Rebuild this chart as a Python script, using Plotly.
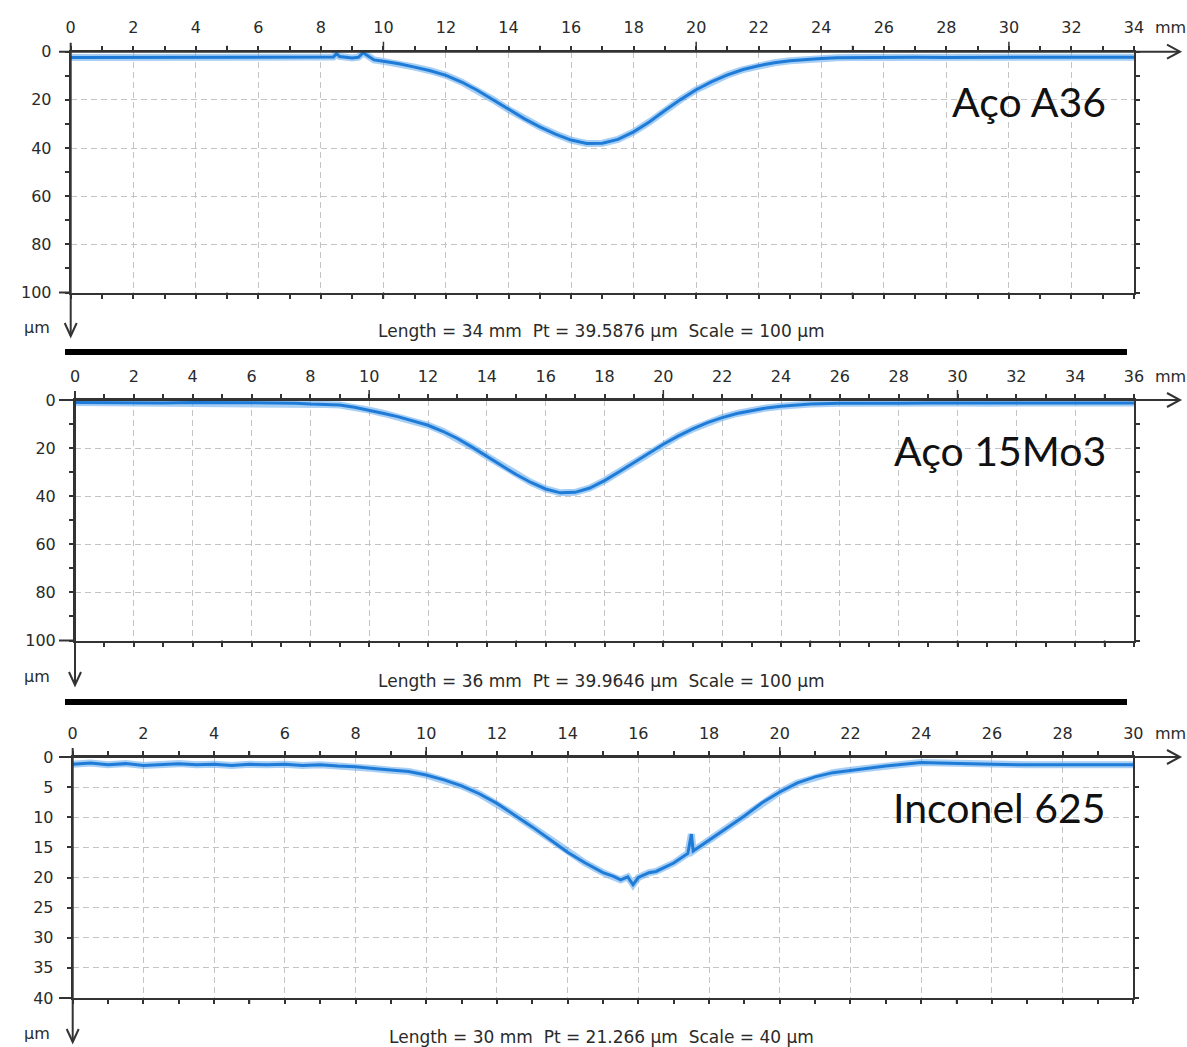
import plotly.graph_objects as go

W, H = 1187, 1047

# ---------------- data (depth in µm, positive downward) ----------------
a36_x = [0, 1, 2, 3, 4, 5, 6, 7, 8, 8.4, 8.5, 8.6, 9.0, 9.2, 9.35, 9.5, 9.7, 10, 10.5, 11, 11.5,
         12, 12.5, 13, 13.5, 14, 14.5, 15, 15.5, 16, 16.5, 17, 17.5, 18, 18.5, 19, 19.5, 20,
         20.5, 21, 21.5, 22, 22.5, 23, 23.5, 24, 24.5, 25, 26, 27, 28, 29, 30, 31, 32, 33, 34]
a36_y = [2.4, 2.4, 2.5, 2.3, 2.4, 2.4, 2.5, 2.3, 2.2, 2.2, 0.8, 2.0, 2.6, 2.3, 0.4, 1.8, 3.4, 4.0, 5.0,
         6.4, 7.9, 9.8, 12.6, 16.0, 19.9, 24.0, 27.8, 31.2, 34.2, 36.7, 38.1, 38.0, 36.4, 33.3,
         29.2, 24.4, 19.9, 15.8, 12.4, 9.6, 7.4, 5.8, 4.6, 3.8, 3.2, 2.8, 2.5, 2.4, 2.3, 2.3,
         2.4, 2.3, 2.3, 2.4, 2.3, 2.3, 2.3]

mo3_x = [0, 1, 2, 3, 4, 5, 6, 7, 7.5, 8, 8.5, 9, 9.5, 10, 10.5, 11, 11.5, 12, 12.5, 13, 13.5,
         14, 14.5, 15, 15.5, 16, 16.5, 17, 17.5, 18, 18.5, 19, 19.5, 20, 20.5, 21, 21.5, 22,
         22.5, 23, 23.5, 24, 24.5, 25, 26, 27, 28, 29, 30, 31, 32, 33, 34, 35, 36]
mo3_y = [1.0, 1.1, 1.0, 1.2, 1.0, 1.1, 1.0, 1.2, 1.3, 1.7, 1.9, 2.1, 3.0, 4.2, 5.6, 7.0, 8.6,
         10.5, 13.0, 16.0, 19.6, 23.4, 27.3, 31.0, 34.3, 37.0, 38.6, 38.4, 36.6, 33.5, 29.8,
         25.9, 22.0, 18.4, 15.0, 12.0, 9.4, 7.3, 5.6, 4.3, 3.3, 2.6, 2.0, 1.7, 1.4, 1.2, 1.3,
         1.2, 1.2, 1.3, 1.2, 1.4, 1.2, 1.3, 1.2]

inc_x = [0, 0.5, 1, 1.5, 2, 2.5, 3, 3.5, 4, 4.5, 5, 5.5, 6, 6.5, 7, 7.5, 8, 8.5, 9, 9.5, 10,
         10.5, 11, 11.5, 12, 12.5, 13, 13.5, 14, 14.5, 15, 15.3, 15.5, 15.7, 15.85, 16, 16.3,
         16.5, 17, 17.4, 17.5, 17.55, 18, 18.5, 19, 19.5, 20, 20.5, 21, 21.5, 22, 22.5, 23,
         23.5, 24, 24.5, 25, 26, 27, 28, 29, 30]
inc_y = [1.2, 1.0, 1.3, 1.1, 1.4, 1.2, 1.1, 1.3, 1.2, 1.4, 1.2, 1.3, 1.2, 1.4, 1.3, 1.5, 1.6,
         1.9, 2.2, 2.4, 3.0, 3.8, 4.8, 6.1, 7.7, 9.6, 11.6, 13.7, 15.8, 17.6, 19.2, 19.8, 20.4,
         19.9, 21.2, 20.0, 19.2, 19.0, 17.6, 16.0, 12.8, 15.6, 13.8, 11.8, 9.8, 7.6, 5.8, 4.3,
         3.3, 2.6, 2.2, 1.8, 1.5, 1.2, 0.9, 1.0, 1.1, 1.2, 1.3, 1.3, 1.2, 1.3]

labels = ["Aço A36", "Aço 15Mo3", "Inconel 625"]
footers = ["Length = 34 mm  Pt = 39.5876 µm  Scale = 100 µm",
           "Length = 36 mm  Pt = 39.9646 µm  Scale = 100 µm",
           "Length = 30 mm  Pt = 21.266 µm  Scale = 40 µm"]
x_max = [34, 36, 30]
y_max = [100, 100, 40]
y_step = [20, 20, 5]

# ---------------- layout geometry (pixels) ----------------
geo = [
    dict(px0=70.7, px1=1134, py0=51.7, py1=292.5, foot_y=331, um_y=327, bar_y=352),
    dict(px0=75.0, px1=1134, py0=400.0, py1=640.5, foot_y=681, um_y=676, bar_y=702),
    dict(px0=72.7, px1=1133.3, py0=757.0, py1=998.0, foot_y=1037, um_y=1033, bar_y=None),
]

def fx(p):
    return p / W

def fy(p):
    return 1 - p / H

TXT = "#2a2a2a"
AX = "#333333"
FONT = "DejaVu Sans"
BLUE_U = "rgba(95,165,235,0.55)"
BLUE = "#1e7cd8"

fig = go.Figure()
series = [(a36_x, a36_y), (mo3_x, mo3_y), (inc_x, inc_y)]
shapes = []
annotations = []

for i, (xs, ys) in enumerate(series):
    g = geo[i]
    sfx = "" if i == 0 else str(i + 1)
    xa, ya = "x" + sfx, "y" + sfx
    fig.add_trace(go.Scatter(x=xs, y=ys, mode="lines", xaxis=xa, yaxis=ya,
                             line=dict(color=BLUE_U, width=7), hoverinfo="skip", showlegend=False))
    fig.add_trace(go.Scatter(x=xs, y=ys, mode="lines", xaxis=xa, yaxis=ya,
                             line=dict(color=BLUE, width=3), showlegend=False))

    xm, ym = x_max[i], y_max[i]
    xt = list(range(0, xm + 1, 2))
    xtt = [str(v) for v in xt]
    yt = list(range(0, ym + 1, y_step[i]))
    fig.layout["xaxis" + sfx] = dict(
        domain=[fx(g["px0"]), fx(g["px1"])], anchor=ya, side="top", range=[0, xm],
        automargin=False,
        tickvals=xt, ticktext=xtt, ticks="outside", ticklen=4, tickwidth=1.5, tickcolor=AX,
        minor=dict(dtick=1, ticks="outside", ticklen=4, tickwidth=1.5, tickcolor=AX, showgrid=False),
        showline=True, linecolor=AX, linewidth=2, mirror="ticks",
        showgrid=True, gridcolor="#c4c4c4", gridwidth=1, griddash="6px,4px",
        zeroline=False, tickfont=dict(family=FONT, size=16, color=TXT), ticklabelstandoff=6,
        fixedrange=True)
    yminor = dict(dtick=10, ticks="outside", ticklen=4, tickwidth=1.5, tickcolor=AX, showgrid=False) \
        if ym == 100 else dict(ticks="")
    fig.layout["yaxis" + sfx] = dict(
        domain=[fy(g["py1"]), fy(g["py0"])], anchor=xa, range=[ym, 0],
        automargin=False,
        tickvals=yt, ticks="outside", ticklen=4, tickwidth=1.5, tickcolor=AX, minor=yminor,
        showline=True, linecolor=AX, linewidth=2, mirror="ticks",
        showgrid=True, gridcolor="#c4c4c4", gridwidth=1, griddash="6px,4px",
        zeroline=False, tickfont=dict(family=FONT, size=16, color=TXT), ticklabelstandoff=10,
        fixedrange=True)

    # extended axis lines with arrows
    L = dict(color=AX, width=2)
    shapes.append(dict(type="line", xref="paper", yref="paper", x0=fx(59), x1=fx(1180),
                       y0=fy(g["py0"]), y1=fy(g["py0"]), line=L))
    shapes.append(dict(type="path", xref="paper", yref="paper",
                       path=f"M {fx(1167)} {fy(g['py0']-7)} L {fx(1180)} {fy(g['py0'])} L {fx(1167)} {fy(g['py0']+7)}",
                       line=L))
    shapes.append(dict(type="line", xref="paper", yref="paper", x0=fx(59), x1=fx(g["px0"]),
                       y0=fy(g["py1"]), y1=fy(g["py1"]), line=L))
    tip = g["um_y"] + 9
    shapes.append(dict(type="line", xref="paper", yref="paper", x0=fx(g["px0"]), x1=fx(g["px0"]),
                       y0=fy(g["py0"] - 9), y1=fy(tip), line=L))
    shapes.append(dict(type="path", xref="paper", yref="paper",
                       path=f"M {fx(g['px0']-6)} {fy(tip-13)} L {fx(g['px0'])} {fy(tip)} L {fx(g['px0']+6)} {fy(tip-13)}",
                       line=L))
    # longer ticks at 5 and 10 mm on the top axis
    for v in range(5, xm, 5):
        ln = 10 if v % 10 == 0 else 6
        shapes.append(dict(type="line", xref=xa, yref="paper", x0=v, x1=v,
                           y0=fy(g["py0"]), y1=fy(g["py0"] - ln), line=dict(color=AX, width=1.5)))
        shapes.append(dict(type="line", xref=xa, yref="paper", x0=v, x1=v,
                           y0=fy(g["py1"]), y1=fy(g["py1"] + 6), line=dict(color=AX, width=1.5)))
    if g["bar_y"] is not None:
        shapes.append(dict(type="rect", xref="paper", yref="paper", x0=fx(65), x1=fx(1127),
                           y0=fy(g["bar_y"] - 3), y1=fy(g["bar_y"] + 3),
                           line=dict(width=0), fillcolor="#000000"))

    annotations.append(dict(text="mm", xref="paper", yref="paper", x=fx(1153), y=fy(g["py0"] - 24),
                            xanchor="left", yanchor="middle", showarrow=False,
                            font=dict(family=FONT, size=16, color=TXT)))
    annotations.append(dict(text="µm", xref="paper", yref="paper", x=fx(37), y=fy(g["um_y"]),
                            xanchor="center", yanchor="middle", showarrow=False,
                            font=dict(family=FONT, size=16, color=TXT)))
    annotations.append(dict(text=footers[i], xref="paper", yref="paper", x=fx(602), y=fy(g["foot_y"]),
                            xanchor="center", yanchor="middle", showarrow=False,
                            font=dict(family=FONT, size=17, color=TXT)))
    annotations.append(dict(text=labels[i], xref="paper", yref="paper", x=fx(1108),
                            y=fy(g["py0"] + 50), xanchor="right", yanchor="middle", showarrow=False,
                            font=dict(family="Lato", size=41, color="#111111")))

fig.update_layout(width=W, height=H, margin=dict(l=0, r=0, t=0, b=0),
                  paper_bgcolor="white", plot_bgcolor="white",
                  shapes=shapes, annotations=annotations, showlegend=False)
fig.write_html("out.html")
